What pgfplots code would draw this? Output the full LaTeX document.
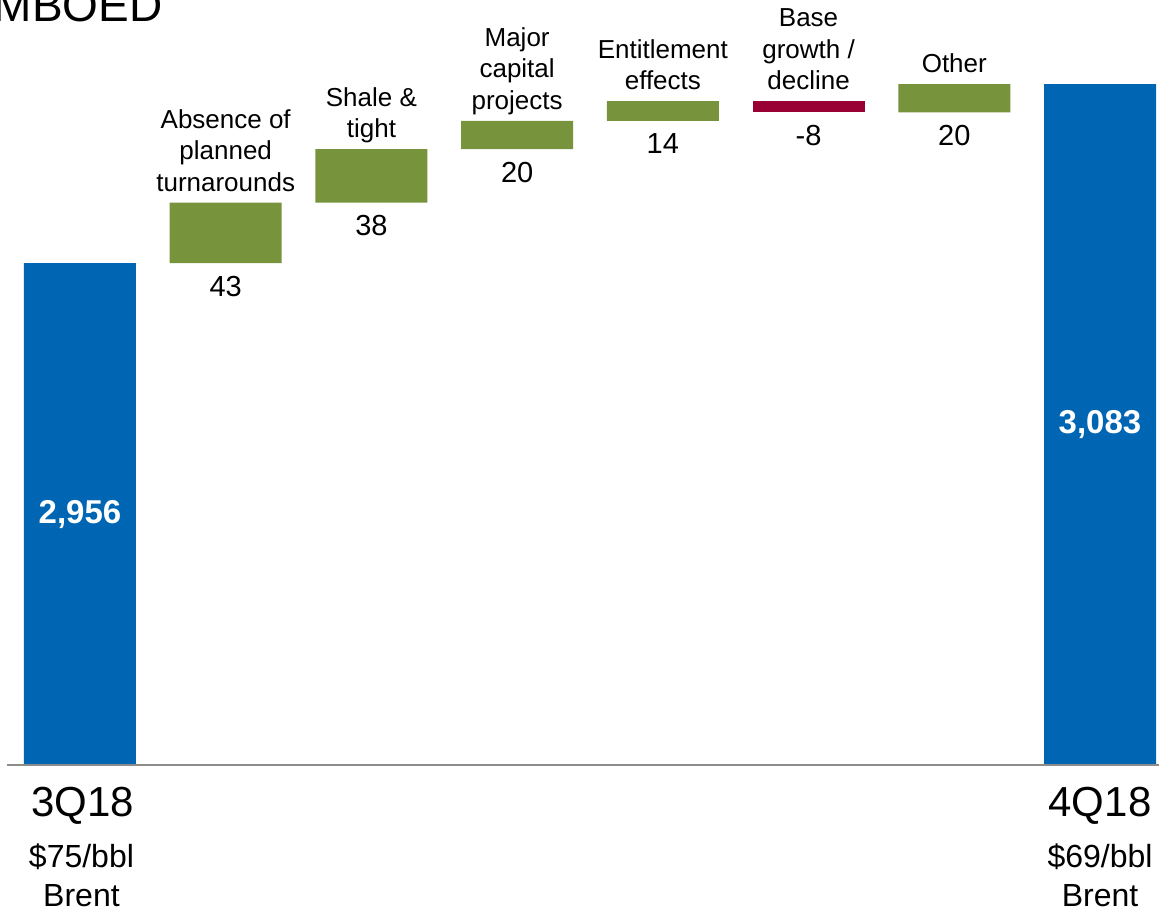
\documentclass[border=0pt]{standalone}
\usepackage{pgfplots}
\pgfplotsset{compat=1.18}
\usepackage{pgfplotstable}
\usepackage{fontspec}
\setmainfont{Liberation Sans}

\definecolor{volblue}{RGB}{0,102,179}
\definecolor{volgreen}{RGB}{119,147,60}
\definecolor{volred}{RGB}{153,0,51}
\definecolor{axisgray}{RGB}{140,140,140}

% Production bridge, MBOED: hidden base, period totals, increases, decreases
\pgfplotstableread{
x base total up down
0 0    2956 0  0
1 2956 0    43 0
2 2999 0    38 0
3 3037 0    20 0
4 3057 0    14 0
5 3071 0    0  -8
6 3063 0    20 0
7 0    3083 0  0
}\waterfall

\newcommand{\catlabel}[3]{%
  \node[anchor=south, align=center, text depth=0pt, inner sep=0pt, yshift=5.5pt,
        font=\fontsize{13}{15.75}\selectfont] at (axis cs:#1,#2) {#3};}
\newcommand{\vallabel}[3]{%
  \node[anchor=base, inner sep=0pt, yshift=-16.5pt,
        font=\fontsize{14.5}{17}\selectfont] at (axis cs:#1,#2) {#3};}

\begin{document}
\begin{tikzpicture}
\begin{axis}[
  at={(0,0)}, anchor=south west,
  scale only axis,
  width=579.5pt, height=382.5pt,
  xmin=-0.549, xmax=7.405,
  ymin=2600, ymax=3142.8,
  hide axis,
  clip mode=individual,
  ybar stacked,
  stack negative=on previous,
  bar width=0.7686,
]
\addplot[draw=none, fill=none, forget plot] table[x=x, y=base] {\waterfall};
\addplot[draw=none, fill=volblue] table[x=x, y=total] {\waterfall};
\addplot[draw=none, fill=volgreen] table[x=x, y=up] {\waterfall};
\addplot[draw=none, fill=volred] table[x=x, y=down] {\waterfall};

% anchor points for the totals written inside the blue bars
\coordinate (tot0) at (axis cs:0,2778);
\coordinate (tot7) at (axis cs:7,2841.5);
\coordinate (base0) at (axis cs:-0.501,2600);
\coordinate (base1) at (axis cs:7.405,2600);

% driver names above the bars
\catlabel{1}{2999}{Absence of\\planned\\turnarounds}
\catlabel{2}{3037}{Shale \&\\tight}
\catlabel{3}{3057}{Major\\capital\\projects}
\catlabel{4}{3071}{Entitlement\\effects}
\catlabel{5}{3071}{Base\\growth /\\decline}
\catlabel{6}{3083}{Other}

% changes below the bars
\vallabel{1}{2956}{43}
\vallabel{2}{2999}{38}
\vallabel{3}{3037}{20}
\vallabel{4}{3057}{14}
\vallabel{5}{3063}{-8}
\vallabel{6}{3063}{20}

% period names under the baseline
\node[anchor=base, inner sep=0pt, yshift=-26pt, font=\fontsize{21}{24}\selectfont] at (axis cs:0.02,2600) {3Q18};
\node[anchor=base, inner sep=0pt, yshift=-51.5pt, font=\fontsize{16}{19}\selectfont] at (axis cs:0.01,2600) {\$75/bbl};
\node[anchor=base, inner sep=0pt, yshift=-71pt, font=\fontsize{16}{19}\selectfont] at (axis cs:0.01,2600) {Brent};
\node[anchor=base, inner sep=0pt, yshift=-26pt, font=\fontsize{21}{24}\selectfont] at (axis cs:7,2600) {4Q18};
\node[anchor=base, inner sep=0pt, yshift=-51.5pt, font=\fontsize{16}{19}\selectfont] at (axis cs:7,2600) {\$69/bbl};
\node[anchor=base, inner sep=0pt, yshift=-71pt, font=\fontsize{16}{19}\selectfont] at (axis cs:7,2600) {Brent};

% units heading
\node[anchor=base east, inner sep=0pt, xshift=81.5pt, yshift=-11pt, font=\fontsize{23}{27}\selectfont] at (rel axis cs:0,1) {MBOED};
\end{axis}
% baseline and totals, on top of the bars
\draw[draw=axisgray, line width=1pt] (base0) -- (base1);
\node[text=white, font=\fontsize{16.5}{19}\selectfont\bfseries] at (tot0) {2,956};
\node[text=white, font=\fontsize{16.5}{19}\selectfont\bfseries] at (tot7) {3,083};
\pgfresetboundingbox
\useasboundingbox (0,-73.5pt) rectangle (579.5pt,382.5pt);
\end{tikzpicture}
\end{document}
